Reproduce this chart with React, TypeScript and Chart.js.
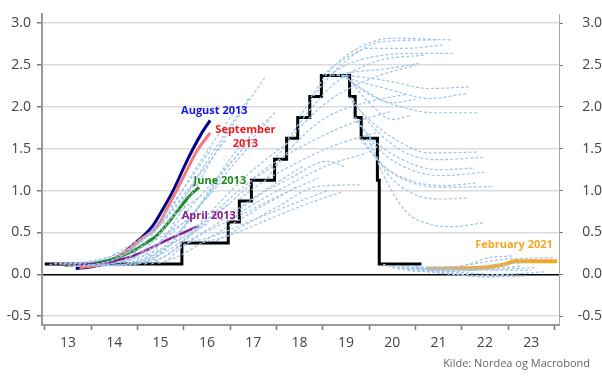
import React, { useEffect, useRef } from "react";
import { Chart, registerables } from "chart.js";
Chart.register(...registerables);

type P = [number, number];

// x tick labels (years, shown mid-year)
const yearLabels = ["13", "14", "15", "16", "17", "18", "19", "20", "21", "22", "23"];
const yTicks = [-0.5, 0, 0.5, 1.0, 1.5, 2.0, 2.5, 3.0];

// Policy rate (mid of target range), step changes
const policyRate: P[] = [
  [2013.0, 0.125], [2015.96, 0.375], [2016.96, 0.625], [2017.2, 0.875], [2017.46, 1.125],
  [2017.96, 1.375], [2018.22, 1.625], [2018.46, 1.875], [2018.72, 2.125], [2018.97, 2.375],
  [2019.58, 2.125], [2019.7, 1.875], [2019.83, 1.625], [2020.18, 1.125], [2020.22, 0.125],
  [2021.13, 0.125],
];

// Highlighted forward curves
const aug2013: P[] = [
  [2013.67, 0.07], [2014.0, 0.09], [2014.5, 0.17], [2014.9, 0.35], [2015.05, 0.42],
  [2015.33, 0.58], [2015.55, 0.78], [2015.77, 1.0], [2016.09, 1.38], [2016.39, 1.69], [2016.57, 1.84],
];
const sep2013: P[] = [
  [2013.75, 0.08], [2014.2, 0.12], [2014.5, 0.19], [2014.84, 0.31], [2015.1, 0.43],
  [2015.41, 0.56], [2015.7, 0.85], [2015.99, 1.16], [2016.28, 1.47], [2016.57, 1.69],
];
const jun2013: P[] = [
  [2013.43, 0.11], [2013.8, 0.12], [2014.33, 0.16], [2014.91, 0.28], [2015.2, 0.38],
  [2015.41, 0.46], [2015.7, 0.64], [2015.92, 0.8], [2016.15, 0.95], [2016.33, 1.04],
];
const apr2013: P[] = [
  [2013.3, 0.12], [2014.0, 0.12], [2014.5, 0.16], [2014.91, 0.22], [2015.2, 0.29],
  [2015.49, 0.37], [2015.8, 0.45], [2016.13, 0.53], [2016.33, 0.58],
];
const feb2021: P[] = [
  [2021.25, 0.07], [2022.3, 0.075], [2022.8, 0.105], [2022.95, 0.125], [2023.15, 0.155], [2024.06, 0.155],
];

// Other forward curves (light blue dashed)
const fwdEarly: P[][] = [
  [[2013.1, 0.12], [2014.0, 0.15], [2015.0, 0.3], [2016.1, 0.65]],
  [[2013.2, 0.13], [2014.0, 0.16], [2014.8, 0.3], [2015.5, 0.6], [2016.2, 1.05]],
  [[2013.4, 0.12], [2014.2, 0.17], [2015.0, 0.4], [2016.4, 0.95]],
  [[2013.5, 0.11], [2014.3, 0.12], [2015.0, 0.2], [2015.8, 0.38], [2016.5, 0.6]],
  [[2013.6, 0.1], [2014.3, 0.14], [2015.0, 0.35], [2015.7, 0.8], [2016.6, 1.5]],
  [[2013.8, 0.1], [2014.5, 0.13], [2015.2, 0.28], [2016.0, 0.62], [2016.8, 1.1]],
  [[2013.9, 0.1], [2014.6, 0.2], [2015.4, 0.55], [2016.0, 0.95], [2016.9, 1.6]],
  [[2014.0, 0.1], [2014.7, 0.12], [2015.4, 0.25], [2016.1, 0.5], [2017.0, 0.85]],
  [[2014.1, 0.1], [2014.8, 0.2], [2015.5, 0.6], [2016.3, 1.3], [2017.1, 1.95]],
  [[2014.25, 0.1], [2014.9, 0.15], [2015.5, 0.4], [2016.3, 0.9], [2017.2, 1.45]],
  [[2014.4, 0.1], [2015.0, 0.22], [2015.7, 0.65], [2016.5, 1.35], [2017.4, 2.1]],
  [[2014.5, 0.1], [2015.1, 0.14], [2015.7, 0.3], [2016.5, 0.62], [2017.5, 1.1]],
  [[2014.6, 0.1], [2015.2, 0.18], [2015.8, 0.45], [2016.6, 1.0], [2017.6, 1.65]],
  [[2014.75, 0.1], [2015.3, 0.25], [2016.0, 0.8], [2016.9, 1.65], [2017.75, 2.35]],
  [[2014.9, 0.11], [2015.4, 0.2], [2016.0, 0.55], [2016.9, 1.25], [2017.85, 1.85]],
  [[2015.0, 0.12], [2015.6, 0.3], [2016.3, 0.8], [2017.1, 1.45], [2018.0, 1.95]],
  [[2015.15, 0.12], [2015.7, 0.25], [2016.4, 0.6], [2017.3, 1.05], [2018.1, 1.35]],
  [[2015.3, 0.12], [2015.8, 0.3], [2016.5, 0.7], [2017.4, 1.2], [2018.3, 1.6]],
  [[2015.45, 0.13], [2015.9, 0.22], [2016.6, 0.45], [2017.5, 0.75], [2018.45, 1.05]],
  [[2015.6, 0.14], [2016.0, 0.35], [2016.7, 0.6], [2017.6, 0.95], [2018.6, 1.3]],
];
const fwdHiking: P[][] = [
  [[2015.9, 0.3], [2016.3, 0.45], [2017.2, 0.7], [2018.1, 0.95], [2018.9, 1.15]],
  [[2016.1, 0.38], [2016.6, 0.45], [2017.5, 0.65], [2018.4, 0.85], [2019.1, 1.0]],
  [[2016.4, 0.38], [2016.9, 0.45], [2017.8, 0.65], [2018.7, 0.85], [2019.4, 0.98]],
  [[2016.7, 0.4], [2017.2, 0.55], [2018.0, 0.8], [2018.9, 1.05], [2019.8, 1.07]],
  [[2016.95, 0.63], [2017.4, 0.8], [2018.2, 1.05], [2019.1, 1.3], [2019.95, 1.45]],
  [[2017.05, 0.7], [2017.5, 0.9], [2018.3, 1.15], [2019.1, 1.35], [2019.5, 1.28]],
  [[2017.2, 0.9], [2017.7, 1.1], [2018.5, 1.35], [2019.3, 1.55], [2020.2, 1.7]],
  [[2017.5, 1.15], [2018.0, 1.35], [2018.8, 1.6], [2019.6, 1.8], [2020.5, 1.95]],
  [[2017.8, 1.15], [2018.3, 1.5], [2019.0, 1.85], [2019.9, 2.05], [2020.8, 2.15]],
  [[2018.0, 1.4], [2018.5, 1.75], [2019.2, 2.1], [2020.1, 2.35], [2021.0, 2.5]],
  [[2018.25, 1.62], [2018.7, 1.95], [2019.3, 2.3], [2020.2, 2.55], [2021.2, 2.62]],
  [[2018.5, 1.88], [2018.9, 2.2], [2019.5, 2.55], [2020.3, 2.78], [2021.5, 2.8]],
  [[2018.75, 2.12], [2019.1, 2.4], [2019.6, 2.65], [2020.5, 2.82], [2021.8, 2.8]],
  [[2019.0, 2.38], [2019.4, 2.55], [2020.0, 2.7], [2020.8, 2.7], [2021.6, 2.74]],
  [[2019.15, 2.38], [2019.5, 2.5], [2020.1, 2.6], [2021.0, 2.64], [2021.8, 2.64]],
  [[2019.3, 2.38], [2019.7, 2.42], [2020.3, 2.45], [2021.1, 2.52]],
];
const fwdCutting: P[][] = [
  [[2019.2, 2.38], [2019.8, 2.36], [2020.5, 2.3], [2021.3, 2.22], [2022.2, 2.24]],
  [[2019.3, 2.38], [2019.8, 2.3], [2020.5, 2.2], [2021.3, 2.1], [2022.1, 2.16]],
  [[2019.4, 2.38], [2019.9, 2.2], [2020.5, 2.05], [2021.0, 2.09]],
  [[2019.45, 2.38], [2020.0, 2.15], [2020.7, 2.0], [2021.4, 1.93], [2022.35, 1.93]],
  [[2019.5, 2.38], [2020.0, 2.05], [2020.5, 1.85], [2020.9, 1.9]],
  [[2019.55, 2.12], [2020.0, 1.85], [2020.6, 1.6], [2021.3, 1.45], [2022.35, 1.46]],
  [[2019.6, 2.12], [2020.1, 1.75], [2020.8, 1.45], [2021.5, 1.37], [2022.5, 1.4]],
  [[2019.65, 1.88], [2020.1, 1.6], [2020.8, 1.35], [2021.5, 1.25], [2022.3, 1.27]],
  [[2019.7, 1.88], [2020.2, 1.5], [2020.9, 1.25], [2021.6, 1.18], [2022.5, 1.22]],
  [[2019.8, 1.62], [2020.3, 1.3], [2020.9, 1.12], [2021.6, 1.06], [2022.3, 1.09]],
  [[2019.85, 1.62], [2020.3, 1.3], [2020.9, 1.1], [2021.6, 1.04], [2022.7, 1.05]],
  [[2019.95, 1.62], [2020.4, 1.2], [2021.0, 0.95], [2021.6, 0.9], [2022.1, 0.91]],
  [[2020.0, 1.62], [2020.3, 1.2], [2020.8, 0.75], [2021.3, 0.6], [2021.8, 0.57], [2022.5, 0.62]],
];
const fwdZero: P[][] = [
  [[2020.3, 0.12], [2020.8, 0.05], [2021.5, 0.03], [2022.3, 0.05], [2023.3, 0.1]],
  [[2020.4, 0.1], [2021.0, 0.05], [2021.8, 0.0], [2022.5, -0.03], [2023.4, -0.02]],
  [[2020.5, 0.08], [2021.0, 0.06], [2021.8, 0.05], [2022.6, 0.1], [2023.5, 0.15]],
  [[2020.6, 0.1], [2021.2, 0.07], [2021.9, 0.06], [2022.6, 0.06], [2023.6, 0.08]],
  [[2020.7, 0.09], [2021.3, 0.04], [2022.0, 0.0], [2022.7, -0.02], [2023.1, -0.01]],
  [[2020.8, 0.08], [2021.4, 0.05], [2022.0, 0.02], [2022.8, 0.0], [2023.8, 0.03]],
  [[2020.9, 0.1], [2021.4, 0.08], [2022.0, 0.1], [2022.6, 0.2], [2023.1, 0.22]],
  [[2021.0, 0.08], [2021.6, 0.08], [2022.2, 0.12], [2022.9, 0.18], [2024.0, 0.2]],
  [[2021.1, 0.07], [2021.7, 0.06], [2022.3, 0.05], [2023.0, 0.05], [2023.5, 0.05]],
];

const labelNotes = [
  { lines: ["August 2013"], x: 2016.66, y: 1.95, color: "#1414e6" },
  { lines: ["September", "2013"], x: 2017.33, y: 1.73, color: "#ee1c1c" },
  { lines: ["June 2013"], x: 2016.78, y: 1.12, color: "#1e8a1e" },
  { lines: ["April 2013"], x: 2016.54, y: 0.7, color: "#8b1a8b" },
  { lines: ["February 2021"], x: 2023.13, y: 0.35, color: "#f5a623" },
];

const toXY = (arr: P[]) => arr.map(([x, y]) => ({ x, y }));

const notesPlugin = {
  id: "notes",
  afterDatasetsDraw(chart: any) {
    const { ctx, scales } = chart;
    ctx.save();
    ctx.font = "bold 11px 'Open Sans', sans-serif";
    ctx.textAlign = "center";
    ctx.textBaseline = "middle";
    labelNotes.forEach((n) => {
      const px = scales.x.getPixelForValue(n.x);
      const py = scales.y.getPixelForValue(n.y);
      ctx.fillStyle = n.color;
      n.lines.forEach((t, i) => ctx.fillText(t, px, py + i * 14));
    });
    ctx.restore();
  },
};

export default function App() {
  const ref = useRef<HTMLCanvasElement>(null);
  useEffect(() => {
    if (!ref.current) return;
    const dashColor = "#9fc4ea";
    const dashed = [...fwdEarly, ...fwdHiking, ...fwdCutting, ...fwdZero].map((c) => ({
      data: toXY(c),
      borderColor: dashColor,
      borderWidth: 1.2,
      borderDash: [3, 2],
      pointRadius: 0,
      cubicInterpolationMode: "monotone" as const,
    }));
    const solid = (d: P[], color: string, w: number) => ({
      data: toXY(d),
      borderColor: color,
      borderWidth: w,
      pointRadius: 0,
      cubicInterpolationMode: "monotone" as const,
    });
    const chart = new Chart(ref.current, {
      type: "line",
      data: {
        datasets: [
          ...dashed,
          solid(feb2021, "#f5a623", 4),
          solid(apr2013, "#8b1a8b", 2.5),
          solid(jun2013, "#1e8a1e", 3),
          solid(sep2013, "#f47a7a", 3),
          solid(aug2013, "#00008b", 3),
          {
            data: toXY(policyRate),
            borderColor: "#000",
            borderWidth: 3,
            pointRadius: 0,
            stepped: true,
          },
        ] as any,
      },
      options: {
        responsive: false,
        animation: false,
        layout: { padding: { top: 7, left: 0, right: 0, bottom: 0 } },
        plugins: { legend: { display: false }, tooltip: { enabled: false } },
        scales: {
          x: {
            type: "linear",
            min: 2012.94,
            max: 2024.1,
            afterBuildTicks: (s: any) => {
              const t = [];
              for (let v = 2013; v <= 2024.001; v += 0.5) t.push({ value: v });
              s.ticks = t;
            },
            afterFit: (s: any) => { s.height = 55; },
            ticks: {
              autoSkip: false,
              maxRotation: 0,
              padding: 5,
              color: "#444",
              font: { family: "'Open Sans', sans-serif", size: 14 },
              callback: (v: any) => {
                const frac = v - Math.floor(v);
                if (Math.abs(frac - 0.5) < 0.01) return yearLabels[Math.floor(v) - 2013] ?? "";
                return "";
              },
            },
            grid: {
              drawOnChartArea: false,
              tickLength: 5,
              tickWidth: 1.5,
              tickColor: (c: any) =>
                c.tick && Math.abs(c.tick.value - Math.round(c.tick.value)) < 0.01 ? "#777" : "rgba(0,0,0,0)",
            },
            border: { color: "#999", width: 2 },
          },
          y: {
            position: "left",
            min: -0.605,
            max: 3.105,
            afterBuildTicks: (s: any) => { s.ticks = yTicks.map((v) => ({ value: v })); },
            afterFit: (s: any) => { s.width = 42; },
            ticks: {
              padding: 6,
              color: "#444",
              font: { family: "'Open Sans', sans-serif", size: 14 },
              callback: (v: any) => Number(v).toFixed(1),
            },
            grid: {
              color: (c: any) => (c.tick && c.tick.value === 0 ? "#000" : "#dcdcdc"),
              lineWidth: 1.5,
              tickColor: "#777",
              tickLength: 5,
            },
            border: { color: "#999", width: 2 },
          },
          y2: {
            position: "right",
            min: -0.605,
            max: 3.105,
            afterBuildTicks: (s: any) => { s.ticks = yTicks.map((v) => ({ value: v })); },
            afterFit: (s: any) => { s.width = 43; },
            ticks: {
              padding: 5,
              color: "#444",
              crossAlign: "far",
              font: { family: "'Open Sans', sans-serif", size: 14 },
              callback: (v: any) => Number(v).toFixed(1),
            },
            grid: { drawOnChartArea: false, tickColor: "#777", tickLength: 4 },
            border: { color: "#aaa", width: 1 },
          },
        },
      } as any,
      plugins: [notesPlugin],
    });
    return () => chart.destroy();
  }, []);
  return (
    <div style={{ position: "absolute", left: 0, top: 0, width: 602, height: 380, background: "#fff" }}>
      <canvas ref={ref} width={602} height={380} />
      <div
        style={{
          position: "absolute",
          right: 12,
          top: 355,
          fontFamily: "'Open Sans', sans-serif",
          fontSize: 11,
          color: "#666",
          whiteSpace: "nowrap",
        }}
      >
        Kilde: Nordea og Macrobond
      </div>
    </div>
  );
}
